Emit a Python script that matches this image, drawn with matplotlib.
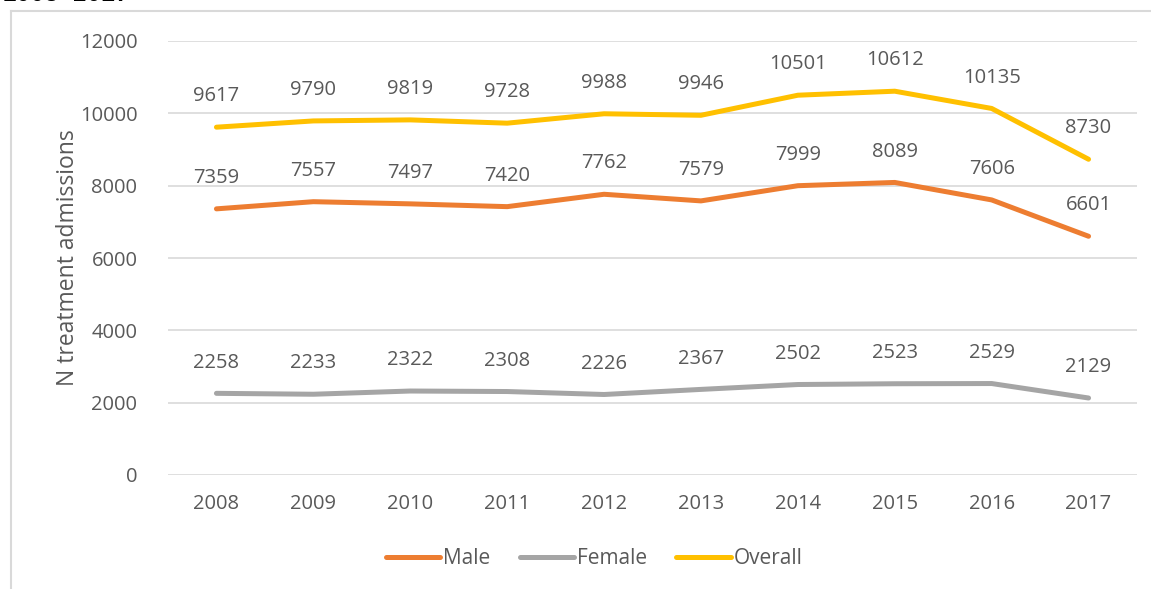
import matplotlib.pyplot as plt
from matplotlib.lines import Line2D

years = ["2008", "2009", "2010", "2011", "2012", "2013", "2014", "2015", "2016", "2017"]
male = [7359, 7557, 7497, 7420, 7762, 7579, 7999, 8089, 7606, 6601]
female = [2258, 2233, 2322, 2308, 2226, 2367, 2502, 2523, 2529, 2129]
overall = [9617, 9790, 9819, 9728, 9988, 9946, 10501, 10612, 10135, 8730]

plt.rcParams['font.family'] = ['Open Sans', 'DejaVu Sans']
txt = '#595959'

fig = plt.figure(figsize=(11.51, 5.89), dpi=100)
ax = fig.add_axes([168 / 1151, 1 - 475 / 589, (1137 - 168) / 1151, (475 - 41) / 589])

# chart frame, partly off the canvas
fig.add_artist(Line2D([11 / 1151, 11 / 1151], [0, 1 - 11 / 589], color='#d9d9d9', lw=1.5))
fig.add_artist(Line2D([11 / 1151, 1], [1 - 11 / 589, 1 - 11 / 589], color='#d9d9d9', lw=1.5))
fig.text(0.002, 1 - 1 / 589, "2008\u20132017", fontsize=17, fontweight='bold',
         family='Liberation Mono', ha='left', va='baseline', color='black')

x = list(range(len(years)))
series = [("Male", male, '#ED7D31'), ("Female", female, '#A5A5A5'), ("Overall", overall, '#FFC000')]
for name, vals, col in series:
    ax.plot(x, vals, color=col, lw=3.6, label=name, solid_capstyle='round', zorder=3)
    for xi, v in zip(x, vals):
        ax.annotate(str(v), (xi, v), xytext=(0, 15), textcoords='offset points',
                    ha='center', va='bottom', fontsize=14.5, color=txt)

ax.set_xlim(-0.5, len(years) - 0.5)
ax.set_ylim(0, 12000)
ax.set_yticks(range(0, 12001, 2000))
ax.set_xticks(x)
ax.set_xticklabels(years)
ax.grid(axis='y', color='#d9d9d9', lw=1.2)
ax.set_axisbelow(True)
for s in ax.spines.values():
    s.set_visible(False)
ax.tick_params(length=0, labelsize=14.5, labelcolor=txt)
ax.tick_params(axis='y', pad=22)
ax.tick_params(axis='x', pad=14)
ax.set_ylabel("N treatment admissions", fontsize=16.5, color=txt, labelpad=0)

ax.legend(loc='upper center', bbox_to_anchor=(0.44, -0.125), ncol=3, frameon=False,
          fontsize=15, labelcolor=txt, handlelength=2.6, handletextpad=0.15,
          columnspacing=1.4)

fig.savefig("out.png", dpi=100)
